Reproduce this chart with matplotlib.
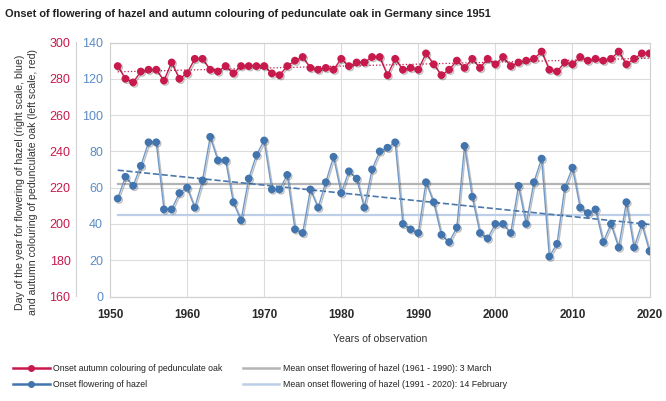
import numpy as np
import matplotlib
matplotlib.use("Agg")
import matplotlib.pyplot as plt
import matplotlib.patheffects as pe

plt.rcParams['font.family'] = ['Liberation Sans', 'DejaVu Sans']

years = list(range(1951, 2021))

# day of year, onset flowering of hazel (right scale)
hazel = [54, 66, 61, 72, 85, 85, 48, 48, 57, 60,
         49, 64, 88, 75, 75, 52, 42, 65, 78, 86,
         59, 59, 67, 37, 35, 59, 49, 63, 77, 57,
         69, 65, 49, 70, 80, 82, 85, 40, 37, 35,
         63, 52, 34, 30, 38, 83, 55, 35, 32, 40,
         40, 35, 61, 40, 63, 76, 22, 29, 60, 71,
         49, 46, 48, 30, 40, 27, 52, 27, 40, 25]

# day of year, onset autumn colouring of pedunculate oak (left scale)
oak = [287, 280, 278, 284, 285, 285, 279, 289, 280, 283,
       291, 291, 285, 284, 287, 283, 287, 287, 287, 287,
       283, 282, 287, 290, 292, 286, 285, 286, 285, 291,
       287, 289, 289, 292, 292, 282, 291, 285, 286, 285,
       294, 288, 282, 285, 290, 286, 291, 286, 291, 288,
       292, 287, 289, 290, 291, 295, 285, 284, 289, 288,
       292, 290, 291, 290, 291, 295, 288, 291, 294, 294]

mean_6190 = 62   # 3 March
mean_9120 = 45   # 14 February

red = '#c8194c'
blue = '#4274ae'
blue_line = '#7099c8'
grey_mean = '#b4b4b4'
lblue_mean = '#bccfe6'
grid_c = '#dcdcdc'

fig = plt.figure(figsize=(6.66, 4.01), dpi=100)
ax = fig.add_axes([110 / 666, 1 - 296.5 / 401, 539.5 / 666, 254 / 401])
ax2 = ax.twinx()

ax.set_xlim(1950, 2020)
ax.set_ylim(0, 140)
ax2.set_ylim(160, 300)
ax.set_xticks(range(1950, 2021, 10))
ax.set_yticks(range(0, 141, 20))
ax2.set_yticks(range(160, 301, 20))
ax.grid(True, color=grid_c, lw=0.8)
ax.set_axisbelow(True)

shadow = [pe.SimpleLineShadow(offset=(1, -1), alpha=0.25), pe.Normal()]

# mean lines
ax.plot([years[0], years[-1]], [mean_6190, mean_6190], color=grey_mean, lw=1.6, zorder=2)
ax.plot([years[0], years[-1]], [mean_9120, mean_9120], color=lblue_mean, lw=1.6, zorder=2)

# trends
yr = np.array(years)
kh = np.polyfit(yr, hazel, 1)
ax.plot(yr, np.polyval(kh, yr), '--', color='#4a78ad', lw=1.2, zorder=3)
ko = np.polyfit(yr, oak, 1)
ax2.plot(yr, np.polyval(ko, yr), ':', color=red, lw=0.9, zorder=3)

ax.plot(years, hazel, '-o', color=blue_line, mfc=blue, mec=blue, ms=4.6, lw=1.0,
        zorder=4, path_effects=shadow)
ax2.plot(years, oak, '-o', color=red, mfc=red, mec=red, ms=4.6, lw=1.0,
         zorder=4, path_effects=shadow)

for a in (ax, ax2):
    for s in a.spines.values():
        s.set_color('#d0d0d0')
        s.set_linewidth(0.8)

ax.tick_params(axis='both', length=0)
ax.tick_params(axis='x', pad=9, labelsize=8.5, labelcolor='#2a2a2a')
ax.tick_params(axis='y', pad=5, labelsize=9, labelcolor='#5b8cc4')
for t in ax.get_xticklabels():
    t.set_fontweight('bold')

ax2.yaxis.set_ticks_position('left')
ax2.spines['left'].set_position(('outward', 34 * 72 / 100))
ax2.spines['right'].set_visible(False)
ax2.tick_params(axis='y', length=0, pad=4, labelsize=9, labelcolor=red)

ax.set_xlabel('Years of observation', fontsize=7.5, color='#333333', labelpad=9)

fig.text(20 / 666, 1 - 182 / 401, 'Day of the year for flowering of hazel (right scale, blue)',
         rotation=90, ha='center', va='center', fontsize=7.6, color='#333333')
fig.text(33 / 666, 1 - 182 / 401, 'and autumn colouring of pedunculate oak (left scale, red)',
         rotation=90, ha='center', va='center', fontsize=7.6, color='#333333')

fig.text(5 / 666, 1 - 14 / 401,
         'Onset of flowering of hazel and autumn colouring of pedunculate oak in Germany since 1951',
         fontsize=7.9, fontweight='bold', color='#222222', va='center')

# legend drawn as two columns under the chart
h1, = ax.plot([], [], '-o', color=red, ms=4, lw=1.8)
h2, = ax.plot([], [], '-o', color=blue, ms=4, lw=1.8)
h3, = ax.plot([], [], '-', color=grey_mean, lw=1.8)
h4, = ax.plot([], [], '-', color=lblue_mean, lw=1.8)
leg = fig.legend([h1, h2, h3, h4],
                 ['Onset autumn colouring of pedunculate oak',
                  'Onset flowering of hazel',
                  'Mean onset flowering of hazel (1961 - 1990): 3 March',
                  'Mean onset flowering of hazel (1991 - 2020): 14 February'],
                 ncol=2, loc='upper left', bbox_to_anchor=(5 / 666, 1 - 356 / 401),
                 frameon=False, fontsize=6.3, handlelength=4.2, handletextpad=0.4,
                 columnspacing=2.3, labelspacing=0.85)
for t in leg.get_texts():
    t.set_color('#222222')

fig.savefig('out.png', dpi=100)
